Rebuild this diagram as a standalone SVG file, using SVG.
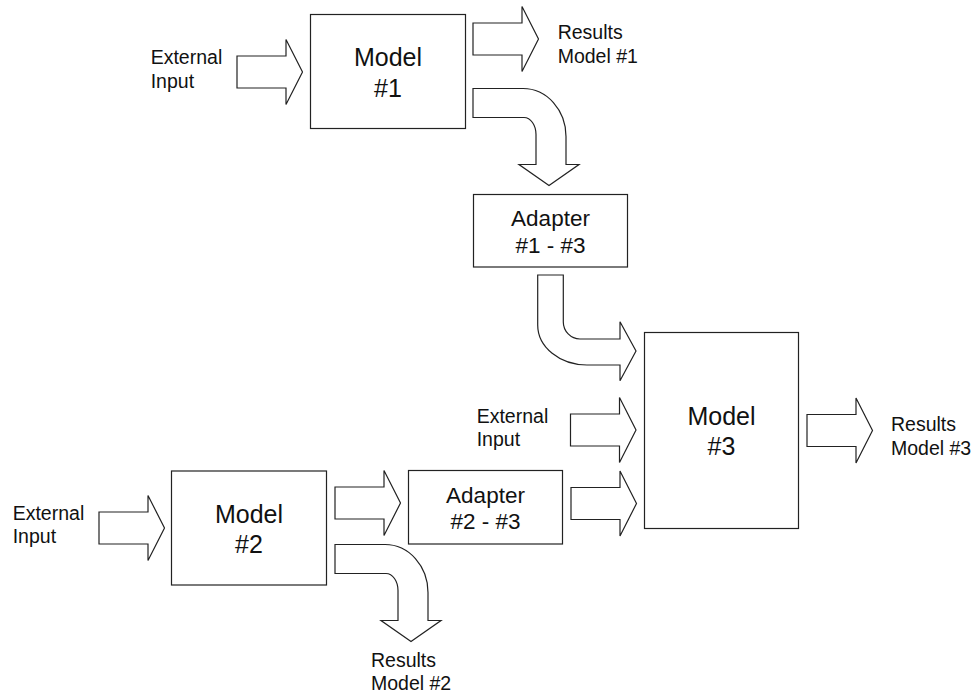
<svg xmlns="http://www.w3.org/2000/svg" width="973" height="695" viewBox="0 0 973 695">
<defs>
<style>
.box{fill:#fff;stroke:#222;stroke-width:1.2}
.arr{fill:#fff;stroke:#222;stroke-width:1.2;stroke-linejoin:miter}
.lbl{font-family:"Liberation Sans",Arial,sans-serif;font-size:19.5px;fill:#111}
.mdl{font-family:"Liberation Sans",Arial,sans-serif;font-size:25px;fill:#111;text-anchor:middle}
.adp{font-family:"Liberation Sans",Arial,sans-serif;font-size:22.5px;fill:#111;text-anchor:middle}
</style>
<path id="straight" d="M0,-16 H49 V-32.5 L65.5,0 L49,32.5 V16 H0 Z"/>
<path id="bend" d="M0,0 H50 A43,48 0 0 1 93,48 V76 H106 L76,97 L46,76 H63 V46 A12,17 0 0 0 51,29 H0 Z"/>
</defs>
<rect width="973" height="695" fill="#fff"/>

<g id="connectors">
<use href="#straight" class="arr" x="237" y="72"/>
<use href="#straight" class="arr" x="473" y="39"/>
<use href="#bend" class="arr" x="473" y="88.5"/>
<path class="arr" d="M537.7,275 H563.3 V322 A17,17 0 0 0 580,339 H620 V321.7 L636,351 L620,380.7 V365 H587 A49.3,40 0 0 1 537.7,325 Z"/>
<use href="#straight" class="arr" x="570.5" y="430"/>
<use href="#straight" class="arr" x="571" y="503.5"/>
<use href="#straight" class="arr" x="807" y="430.5"/>
<use href="#straight" class="arr" x="99" y="528"/>
<use href="#straight" class="arr" x="335" y="503"/>
<use href="#bend" class="arr" x="335" y="544.5"/>
</g>

<g id="label-ext1">
<text class="lbl" x="150.7" y="64">External</text>
<text class="lbl" x="150.7" y="87.6">Input</text>
</g>
<g id="label-res1">
<text class="lbl" x="557.7" y="39.3">Results</text>
<text class="lbl" x="557.7" y="63.3">Model #1</text>
</g>
<g id="label-ext3">
<text class="lbl" x="476.7" y="422.8">External</text>
<text class="lbl" x="476.7" y="445.5">Input</text>
</g>
<g id="label-res3">
<text class="lbl" x="891" y="430.7">Results</text>
<text class="lbl" x="891" y="455">Model #3</text>
</g>
<g id="label-ext2">
<text class="lbl" x="12.7" y="520">External</text>
<text class="lbl" x="12.7" y="543.4">Input</text>
</g>
<g id="label-res2">
<text class="lbl" x="371" y="666.7">Results</text>
<text class="lbl" x="371" y="690">Model #2</text>
</g>

<g id="model1">
<rect class="box" x="310.5" y="14.5" width="155" height="114"/>
<text class="mdl" x="388" y="66">Model</text>
<text class="mdl" x="388" y="96.5">#1</text>
</g>
<g id="adapter13">
<rect class="box" x="473.5" y="194.5" width="154" height="72.5"/>
<text class="adp" x="550.5" y="225.7">Adapter</text>
<text class="adp" x="550.5" y="253.3">#1 - #3</text>
</g>
<g id="model3">
<rect class="box" x="644.5" y="332.5" width="154" height="196"/>
<text class="mdl" x="721.5" y="425">Model</text>
<text class="mdl" x="721.5" y="455">#3</text>
</g>
<g id="adapter23">
<rect class="box" x="408.5" y="470.5" width="154" height="73.5"/>
<text class="adp" x="485.5" y="502.7">Adapter</text>
<text class="adp" x="485.5" y="529.3">#2 - #3</text>
</g>
<g id="model2">
<rect class="box" x="171.5" y="471" width="155" height="114"/>
<text class="mdl" x="249" y="522.7">Model</text>
<text class="mdl" x="249" y="552.7">#2</text>
</g>
</svg>
